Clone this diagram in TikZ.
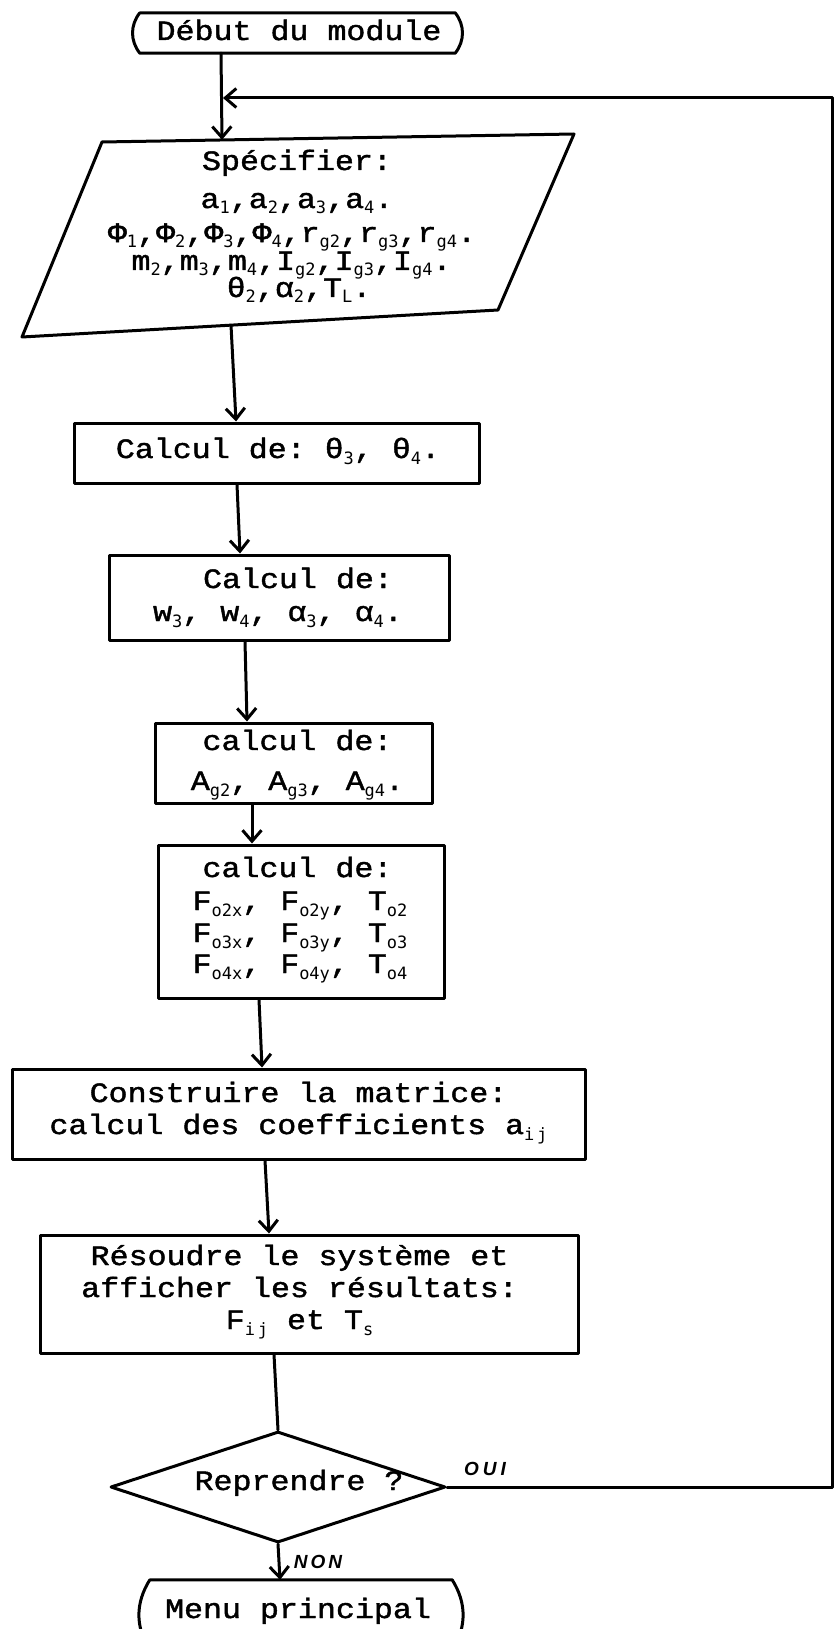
\documentclass[tikz,border=0pt]{standalone}
\usepackage{fontspec}
\setmainfont{Liberation Mono}[FakeStretch=1.13,FakeBold=1.5]
\newfontfamily\subfont{DejaVu Sans Mono}
\newfontfamily\handfont{Liberation Sans}
\usetikzlibrary{shapes.geometric,arrows.meta}
\newcommand{\lowr}[1]{\raisebox{-6pt}{\subfont\fontsize{17}{17}\selectfont #1}}
\newcommand{\txl}[3]{\makebox[0pt]{\hspace*{#1pt}\hspace*{#1pt}\raisebox{-#2pt}[0pt][0pt]{#3}}}
\begin{document}
\begin{tikzpicture}[x=1pt,y=-1pt,
  font=\fontsize{28}{32}\selectfont\frenchspacing,
  ln/.style={line width=3pt, line join=round, line cap=round},
  box/.style={draw, ln, rectangle, inner sep=0pt},
  term/.style={rectangle, inner sep=0pt},
  dec/.style={draw, ln, diamond, inner sep=0pt},
  arr/.style={-{Straight Barb[length=11pt,width=19pt]}},
  lbl/.style={font=\handfont\bfseries\itshape\fontsize{19}{19}\selectfont}]
\useasboundingbox (0,0) rectangle (834,1629);
\fill[white] (0,0) rectangle (834,1629);

% start terminal
\node[term, minimum width=315pt, minimum height=40pt] (start) at (297.5,33) {\txl{1.5}{7}{Début du module}};
\draw[ln] (start.north west) -- (start.north east) to[bend left=38] (start.south east)
  -- (start.south west) to[bend left=38] (start.north west);

% input parallelogram
\node[term, minimum width=470pt, minimum height=185pt] (spec) at (298,232.5) {%
\txl{-1}{-62.5}{Spécifier:}%
\txl{-1}{-24.5}{a\lowr{1},a\lowr{2},a\lowr{3},a\lowr{4}.}%
\txl{-6}{9.5}{Φ\lowr{1},Φ\lowr{2},Φ\lowr{3},Φ\lowr{4},r\lowr{g2},r\lowr{g3},r\lowr{g4}.}%
\txl{-6.5}{37.5}{m\lowr{2},m\lowr{3},m\lowr{4},I\lowr{g2},I\lowr{g3},I\lowr{g4}.}%
\txl{1}{64.5}{θ\lowr{2},α\lowr{2},T\lowr{L}.}};
\coordinate (pTL) at (102,142);
\coordinate (pTR) at (574,134);
\coordinate (pBR) at (498,310);
\coordinate (pBL) at (22,337);
\draw[ln] (pTL) -- (pTR) -- (pBR) -- (pBL) -- cycle;

% process boxes
\node[box, minimum width=405pt, minimum height=60pt] (calc1) at (276.5,453) {\txl{1.5}{5}{Calcul de: θ\lowr{3}, θ\lowr{4}.}};
\node[box, minimum width=340pt, minimum height=85pt] (wbox) at (279,597.5) {%
\txl{19}{-9.5}{Calcul de:}%
\txl{-1}{23.5}{w\lowr{3}, w\lowr{4}, α\lowr{3}, α\lowr{4}.}};
\node[box, minimum width=277pt, minimum height=80pt] (abox) at (293.5,763) {%
\txl{4}{-13}{calcul de:}%
\txl{4}{27}{A\lowr{g2}, A\lowr{g3}, A\lowr{g4}.}};
\node[box, minimum width=286pt, minimum height=153pt] (fbox) at (301,921.5) {%
\txl{-3.5}{-44.5}{calcul de:}%
\txl{-1}{-11.5}{F\lowr{o2x}, F\lowr{o2y}, T\lowr{o2}}%
\txl{-1}{20.5}{F\lowr{o3x}, F\lowr{o3y}, T\lowr{o3}}%
\txl{-1}{51.5}{F\lowr{o4x}, F\lowr{o4y}, T\lowr{o4}}};
\node[box, minimum width=573pt, minimum height=90pt] (cons) at (298.5,1114) {%
\txl{0}{-12}{Construire la matrice:}%
\txl{0}{20}{calcul des coefficients a\lowr{i\,j}}};
\node[box, minimum width=538pt, minimum height=118pt] (res) at (309,1294) {%
\txl{-9.5}{-29}{Résoudre le système et}%
\txl{-9.5}{3}{afficher les résultats:}%
\txl{-9.5}{35}{F\lowr{i\,j} et T\lowr{s}}};

% decision
\node[dec, minimum width=335pt, minimum height=111pt] (rep) at (278,1487) {\txl{21}{3}{Reprendre ?}};

% end terminal
\node[term, minimum width=302pt, minimum height=70pt] (menu) at (301,1615) {\txl{-3}{3}{Menu principal}};
\draw[ln] (menu.north west) -- (menu.north east) to[bend left=32] (menu.south east)
  -- (menu.south west) to[bend left=32] (menu.north west);

% connectors
\coordinate (join) at (223,98);
\coordinate (loopT) at (832.5,98);
\coordinate (loopB) at (832.5,1487);
\draw[ln, arr] ([xshift=-76.5pt]start.south) -- ([xshift=-76pt]spec.north);
\draw[ln, arr] ([xshift=-67pt]spec.south) -- ([xshift=-40.5pt]calc1.north);
\draw[ln, arr] ([xshift=-39.5pt]calc1.south) -- ([xshift=-39pt]wbox.north);
\draw[ln, arr] ([xshift=-34pt]wbox.south) -- ([xshift=-46.5pt]abox.north);
\draw[ln, arr] ([xshift=-41.5pt]abox.south) -- ([xshift=-49pt]fbox.north);
\draw[ln, arr] ([xshift=-42pt]fbox.south) -- ([xshift=-36.5pt]cons.north);
\draw[ln, arr] ([xshift=-33.5pt]cons.south) -- ([xshift=-40pt]res.north);
\draw[ln] ([xshift=-35pt]res.south) -- (rep.north);
\draw[ln, arr] (rep.south) -- ([xshift=-21pt]menu.north) node[lbl, midway, right=10pt] {N\hspace{3pt}O\hspace{3pt}N};
\draw[ln, arr] (rep.east) -- (loopB) -- (loopT) -- (join);
\node[lbl] (oui) at (485,1469) {O\hspace{4pt}U\hspace{4pt}I};
\end{tikzpicture}
\end{document}
